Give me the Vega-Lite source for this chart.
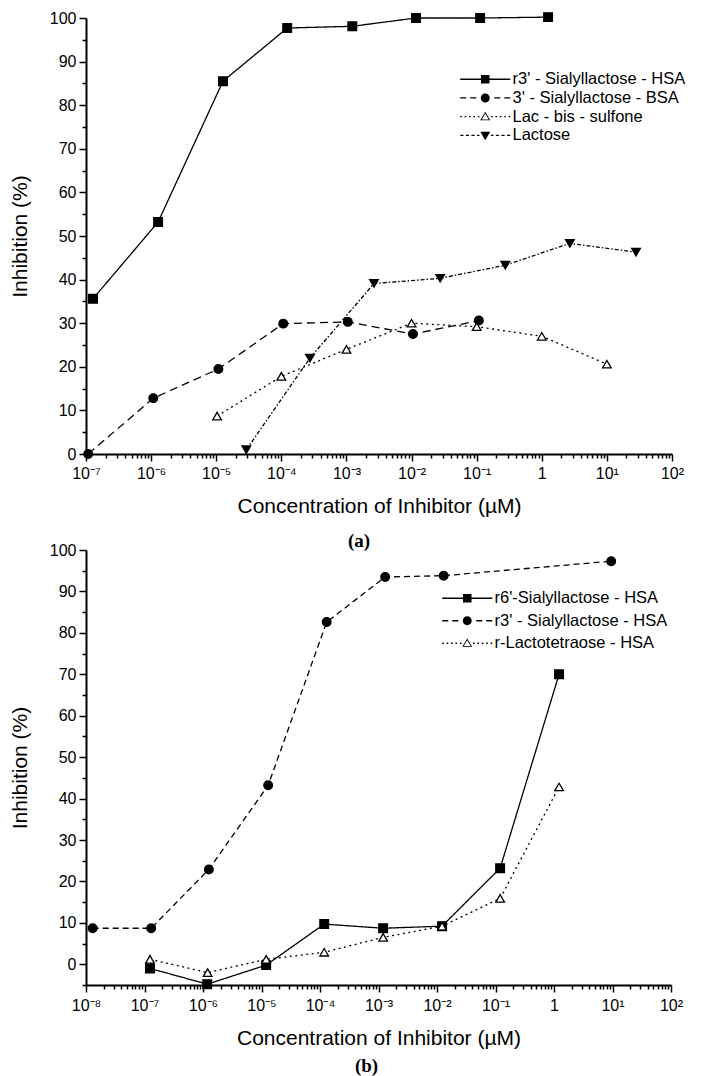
{
  "$schema": "https://vega.github.io/schema/vega-lite/v6.json",
  "background": "white",
  "padding": {"left": 9, "top": 10, "right": 5, "bottom": 0},
  "bounds": "flush",
  "spacing": 96,
  "config": {
    "view": {"stroke": null},
    "font": "Liberation Sans",
    "axis": {
      "domainColor": "black", "domainWidth": 2, "tickColor": "black", "tickWidth": 1.5,
      "labelColor": "black", "titleColor": "black", "labelFont": "Liberation Sans", "labelFontSize": 16,
      "titleFont": "Liberation Sans", "titleFontSize": 21, "titleFontWeight": "normal", "grid": false,
      "labelOverlap": false, "labelBound": false, "labelFlush": false
    },
    "legend": {
      "orient": "none", "title": null, "symbolSize": 256, "symbolStrokeWidth": 0, "symbolStrokeColor": "black",
      "symbolFillColor": "black", "symbolOpacity": 1, "labelFont": "Liberation Sans", "labelFontSize": 16.5, "labelColor": "black",
      "labelOffset": 4, "labelLimit": 500, "padding": 0
    }
  },
  "datasets": {
    "a": [
      {"series": "r3' - Sialyllactose - HSA", "conc": 1.28e-7, "inh": 35.6},
      {"series": "r3' - Sialyllactose - HSA", "conc": 1.28e-6, "inh": 53.2},
      {"series": "r3' - Sialyllactose - HSA", "conc": 1.27e-5, "inh": 85.5},
      {"series": "r3' - Sialyllactose - HSA", "conc": 1.23e-4, "inh": 97.7},
      {"series": "r3' - Sialyllactose - HSA", "conc": 1.23e-3, "inh": 98.1},
      {"series": "r3' - Sialyllactose - HSA", "conc": 1.17e-2, "inh": 100},
      {"series": "r3' - Sialyllactose - HSA", "conc": 1.13e-1, "inh": 100},
      {"series": "r3' - Sialyllactose - HSA", "conc": 1.25, "inh": 100.2},
      {"series": "3' - Sialyllactose - BSA", "conc": 1.08e-7, "inh": 0},
      {"series": "3' - Sialyllactose - BSA", "conc": 1.08e-6, "inh": 12.8},
      {"series": "3' - Sialyllactose - BSA", "conc": 1.08e-5, "inh": 19.5},
      {"series": "3' - Sialyllactose - BSA", "conc": 1.07e-4, "inh": 29.9},
      {"series": "3' - Sialyllactose - BSA", "conc": 1.05e-3, "inh": 30.3},
      {"series": "3' - Sialyllactose - BSA", "conc": 1.05e-2, "inh": 27.5},
      {"series": "3' - Sialyllactose - BSA", "conc": 1.08e-1, "inh": 30.6},
      {"series": "Lac - bis - sulfone", "conc": 1.03e-5, "inh": 8.7},
      {"series": "Lac - bis - sulfone", "conc": 1.0e-4, "inh": 17.8},
      {"series": "Lac - bis - sulfone", "conc": 1.0e-3, "inh": 24.0},
      {"series": "Lac - bis - sulfone", "conc": 1.0e-2, "inh": 30.0},
      {"series": "Lac - bis - sulfone", "conc": 1.0e-1, "inh": 29.2},
      {"series": "Lac - bis - sulfone", "conc": 1.0, "inh": 27.0},
      {"series": "Lac - bis - sulfone", "conc": 10, "inh": 20.6},
      {"series": "Lactose", "conc": 2.9e-5, "inh": 1.0},
      {"series": "Lactose", "conc": 2.75e-4, "inh": 22.0},
      {"series": "Lactose", "conc": 2.65e-3, "inh": 39.1},
      {"series": "Lactose", "conc": 2.75e-2, "inh": 40.3},
      {"series": "Lactose", "conc": 2.75e-1, "inh": 43.3},
      {"series": "Lactose", "conc": 2.7, "inh": 48.3},
      {"series": "Lactose", "conc": 28, "inh": 46.3}
    ],
    "b": [
      {"series": "r6'-Sialyllactose - HSA", "conc": 1.24e-7, "inh": -1.0},
      {"series": "r6'-Sialyllactose - HSA", "conc": 1.18e-6, "inh": -4.8},
      {"series": "r6'-Sialyllactose - HSA", "conc": 1.2e-5, "inh": -0.2},
      {"series": "r6'-Sialyllactose - HSA", "conc": 1.18e-4, "inh": 9.7},
      {"series": "r6'-Sialyllactose - HSA", "conc": 1.2e-3, "inh": 8.7},
      {"series": "r6'-Sialyllactose - HSA", "conc": 1.22e-2, "inh": 9.2},
      {"series": "r6'-Sialyllactose - HSA", "conc": 1.2e-1, "inh": 23.2},
      {"series": "r6'-Sialyllactose - HSA", "conc": 1.22, "inh": 70.0},
      {"series": "r3' - Sialyllactose - HSA", "conc": 1.3e-8, "inh": 8.7},
      {"series": "r3' - Sialyllactose - HSA", "conc": 1.3e-7, "inh": 8.7},
      {"series": "r3' - Sialyllactose - HSA", "conc": 1.26e-6, "inh": 22.9},
      {"series": "r3' - Sialyllactose - HSA", "conc": 1.3e-5, "inh": 43.2},
      {"series": "r3' - Sialyllactose - HSA", "conc": 1.3e-4, "inh": 82.6},
      {"series": "r3' - Sialyllactose - HSA", "conc": 1.3e-3, "inh": 93.5},
      {"series": "r3' - Sialyllactose - HSA", "conc": 1.3e-2, "inh": 93.8},
      {"series": "r3' - Sialyllactose - HSA", "conc": 9.5, "inh": 97.3},
      {"series": "r-Lactotetraose - HSA", "conc": 1.24e-7, "inh": 1.2},
      {"series": "r-Lactotetraose - HSA", "conc": 1.2e-6, "inh": -2.0},
      {"series": "r-Lactotetraose - HSA", "conc": 1.2e-5, "inh": 1.2},
      {"series": "r-Lactotetraose - HSA", "conc": 1.18e-4, "inh": 2.9},
      {"series": "r-Lactotetraose - HSA", "conc": 1.2e-3, "inh": 6.5},
      {"series": "r-Lactotetraose - HSA", "conc": 1.22e-2, "inh": 9.2},
      {"series": "r-Lactotetraose - HSA", "conc": 1.2e-1, "inh": 15.9},
      {"series": "r-Lactotetraose - HSA", "conc": 1.22, "inh": 42.8}
    ]
  },
  "resolve": {
    "scale": {"x": "independent", "y": "independent", "shape": "independent", "strokeDash": "independent", "fill": "independent"},
    "legend": {"shape": "independent"}
  },
  "vconcat": [
    {
      "width": 586, "height": 436,
      "data": {"name": "a"},
      "title": {"text": "(a)", "orient": "bottom", "font": "Liberation Serif", "fontSize": 19, "fontWeight": "bold", "color": "black", "dx": -20, "offset": 16},
      "encoding": {
        "x": {"field": "conc", "type": "quantitative",
          "scale": {"type": "log", "domain": [1e-7, 100], "nice": false},
          "axis": {
            "title": "Concentration of Inhibitor (µM)",
            "values": [1e-7,2e-7,3e-7,4e-7,5e-7,6e-7,7e-7,8e-7,9e-7,1e-6,2e-6,3e-6,4e-6,5e-6,6e-6,7e-6,8e-6,9e-6,1e-5,2e-5,3e-5,4e-5,5e-5,6e-5,7e-5,8e-5,9e-5,1e-4,2e-4,3e-4,4e-4,5e-4,6e-4,7e-4,8e-4,9e-4,0.001,0.002,0.003,0.004,0.005,0.006,0.007,0.008,0.009,0.01,0.02,0.03,0.04,0.05,0.06,0.07,0.08,0.09,0.1,0.2,0.3,0.4,0.5,0.6,0.7,0.8,0.9,1,2,3,4,5,6,7,8,9,10,20,30,40,50,60,70,80,90,100],
            "labelExpr": "abs(datum.value/pow(10,round(log(datum.value)/LN10))-1)<0.001 ? (round(log(datum.value)/LN10)==0 ? '1' : '10' + (round(log(datum.value)/LN10)<0 ? '⁻' : '') + substring('⁰¹²³⁴⁵⁶⁷⁸⁹', abs(round(log(datum.value)/LN10)), abs(round(log(datum.value)/LN10))+1)) : ''",
            "tickSize": {"condition": {"test": "abs(datum.value/pow(10,round(log(datum.value)/LN10))-1)<0.001", "value": 7}, "value": 4},
            "labelPadding": 4, "titlePadding": 14
          }
        },
        "y": {"field": "inh", "type": "quantitative",
          "scale": {"domain": [0, 100], "nice": false, "zero": false},
          "axis": {
            "title": "Inhibition (%)",
            "values": [0,5,10,15,20,25,30,35,40,45,50,55,60,65,70,75,80,85,90,95,100],
            "labelExpr": "datum.value % 10 === 0 ? datum.label : ''",
            "tickSize": {"condition": {"test": "datum.value % 10 === 0", "value": 7}, "value": 4},
            "labelPadding": 3, "titlePadding": 19
          }
        }
      },
      "layer": [
        {
          "mark": {"type": "line", "strokeWidth": 1.3, "color": "black"},
          "encoding": {
            "detail": {"field": "series", "type": "nominal"},
            "strokeDash": {"field": "series", "type": "nominal",
              "scale": {"domain": ["r3' - Sialyllactose - HSA", "3' - Sialyllactose - BSA", "Lac - bis - sulfone", "Lactose"],
                "range": [[1, 0], [8, 5], [2, 3.5], [4, 2, 1.5, 2]]},
              "legend": null}
          }
        },
        {
          "mark": {"type": "point", "strokeWidth": 1.3, "opacity": 1, "stroke": "black", "size": 75},
          "encoding": {
            "shape": {"field": "series", "type": "nominal",
              "scale": {"domain": ["r3' - Sialyllactose - HSA", "3' - Sialyllactose - BSA", "Lac - bis - sulfone", "Lactose"],
                "range": ["square", "circle", "triangle-up", "triangle-down"]},
              "legend": null},
            "fill": {"field": "series", "type": "nominal",
              "scale": {"domain": ["r3' - Sialyllactose - HSA", "3' - Sialyllactose - BSA", "Lac - bis - sulfone", "Lactose"],
                "range": ["black", "black", "white", "black"]},
              "legend": null}
          }
        },
        {
          "transform": [{"filter": "false"}],
          "mark": {"type": "point", "filled": true, "fill": "black", "opacity": 1},
          "encoding": {
            "shape": {"field": "series", "type": "nominal",
              "scale": {"domain": ["r3' - Sialyllactose - HSA", "3' - Sialyllactose - BSA", "Lac - bis - sulfone", "Lactose"],
                "range": [
                  "M-5,-0.08H1.25V0.08H-5ZM-2.405,-0.53H-1.345V0.53H-2.405Z",
                  "M-5,-0.08H-4.25V0.08H-5ZM-3.75,-0.08H-3V0.08H-3.75ZM-0.75,-0.08H0V0.08H-0.75ZM0.5,-0.08H1.25V0.08H0.5ZM-1.315,0A0.56,0.56,0,1,1,-2.435,0A0.56,0.56,0,1,1,-1.315,0Z",
                  "M-5,-0.08H-4.8V0.08H-5ZM-4.45,-0.08H-4.25V0.08H-4.45ZM-3.9,-0.08H-3.7V0.08H-3.9ZM-3.35,-0.08H-3.15V0.08H-3.35ZM-2.8,-0.08H-2.6V0.08H-2.8ZM-1.15,-0.08H-0.95V0.08H-1.15ZM-0.6,-0.08H-0.4V0.08H-0.6ZM-0.05,-0.08H0.15V0.08H-0.05ZM0.5,-0.08H0.7V0.08H0.5ZM1.05,-0.08H1.25V0.08H1.05ZM-1.875,-0.6L-1.255,0.45L-2.495,0.45ZM-1.875,-0.39L-2.309,0.345L-1.441,0.345Z",
                  "M-5,-0.08H-4.6V0.08H-5ZM-4.3,-0.08H-3.9V0.08H-4.3ZM-3.6,-0.08H-3.2V0.08H-3.6ZM-2.9,-0.08H-2.6V0.08H-2.9ZM-1.15,-0.08H-0.85V0.08H-1.15ZM-0.55,-0.08H-0.15V0.08H-0.55ZM0.15,-0.08H0.55V0.08H0.15ZM0.85,-0.08H1.25V0.08H0.85ZM-1.875,0.6L-1.255,-0.45L-2.495,-0.45Z"
                ]},
              "legend": {"orient": "none", "legendX": 406, "legendY": 53, "rowPadding": 1.7}
            }
          }
        }
      ],
      "resolve": {"scale": {"shape": "independent"}, "legend": {"shape": "independent"}}
    },
    {
      "width": 585, "height": 435,
      "data": {"name": "b"},
      "title": {"text": "(b)", "orient": "bottom", "font": "Liberation Serif", "fontSize": 19, "fontWeight": "bold", "color": "black", "dx": -12, "offset": 9},
      "encoding": {
        "x": {"field": "conc", "type": "quantitative",
          "scale": {"type": "log", "domain": [1e-8, 100], "nice": false},
          "axis": {
            "title": "Concentration of Inhibitor (µM)",
            "values": [1e-8,2e-8,3e-8,4e-8,5e-8,6e-8,7e-8,8e-8,9e-8,1e-7,2e-7,3e-7,4e-7,5e-7,6e-7,7e-7,8e-7,9e-7,1e-6,2e-6,3e-6,4e-6,5e-6,6e-6,7e-6,8e-6,9e-6,1e-5,2e-5,3e-5,4e-5,5e-5,6e-5,7e-5,8e-5,9e-5,1e-4,2e-4,3e-4,4e-4,5e-4,6e-4,7e-4,8e-4,9e-4,0.001,0.002,0.003,0.004,0.005,0.006,0.007,0.008,0.009,0.01,0.02,0.03,0.04,0.05,0.06,0.07,0.08,0.09,0.1,0.2,0.3,0.4,0.5,0.6,0.7,0.8,0.9,1,2,3,4,5,6,7,8,9,10,20,30,40,50,60,70,80,90,100],
            "labelExpr": "abs(datum.value/pow(10,round(log(datum.value)/LN10))-1)<0.001 ? (round(log(datum.value)/LN10)==0 ? '1' : '10' + (round(log(datum.value)/LN10)<0 ? '⁻' : '') + substring('⁰¹²³⁴⁵⁶⁷⁸⁹', abs(round(log(datum.value)/LN10)), abs(round(log(datum.value)/LN10))+1)) : ''",
            "tickSize": {"condition": {"test": "abs(datum.value/pow(10,round(log(datum.value)/LN10))-1)<0.001", "value": 7}, "value": 4},
            "labelPadding": 5, "titlePadding": 14
          }
        },
        "y": {"field": "inh", "type": "quantitative",
          "scale": {"domain": [-5, 100], "nice": false, "zero": false},
          "axis": {
            "title": "Inhibition (%)",
            "values": [-5,0,5,10,15,20,25,30,35,40,45,50,55,60,65,70,75,80,85,90,95,100],
            "labelExpr": "datum.value % 10 === 0 ? datum.label : ''",
            "tickSize": {"condition": {"test": "datum.value % 10 === 0", "value": 7}, "value": 4},
            "labelPadding": 3, "titlePadding": 19
          }
        }
      },
      "layer": [
        {
          "mark": {"type": "line", "strokeWidth": 1.3, "color": "black"},
          "encoding": {
            "detail": {"field": "series", "type": "nominal"},
            "strokeDash": {"field": "series", "type": "nominal",
              "scale": {"domain": ["r6'-Sialyllactose - HSA", "r3' - Sialyllactose - HSA", "r-Lactotetraose - HSA"],
                "range": [[1, 0], [6, 4], [2, 3.5]]},
              "legend": null}
          }
        },
        {
          "mark": {"type": "point", "strokeWidth": 1.3, "opacity": 1, "stroke": "black", "size": 75},
          "encoding": {
            "shape": {"field": "series", "type": "nominal",
              "scale": {"domain": ["r6'-Sialyllactose - HSA", "r3' - Sialyllactose - HSA", "r-Lactotetraose - HSA"],
                "range": ["square", "circle", "triangle-up"]},
              "legend": null},
            "fill": {"field": "series", "type": "nominal",
              "scale": {"domain": ["r6'-Sialyllactose - HSA", "r3' - Sialyllactose - HSA", "r-Lactotetraose - HSA"],
                "range": ["black", "black", "white"]},
              "legend": null}
          }
        },
        {
          "transform": [{"filter": "false"}],
          "mark": {"type": "point", "filled": true, "fill": "black", "opacity": 1},
          "encoding": {
            "shape": {"field": "series", "type": "nominal",
              "scale": {"domain": ["r6'-Sialyllactose - HSA", "r3' - Sialyllactose - HSA", "r-Lactotetraose - HSA"],
                "range": [
                  "M-5,-0.08H1.25V0.08H-5ZM-2.405,-0.53H-1.345V0.53H-2.405Z",
                  "M-5,-0.08H-4.25V0.08H-5ZM-3.75,-0.08H-3V0.08H-3.75ZM-0.75,-0.08H0V0.08H-0.75ZM0.5,-0.08H1.25V0.08H0.5ZM-1.315,0A0.56,0.56,0,1,1,-2.435,0A0.56,0.56,0,1,1,-1.315,0Z",
                  "M-5,-0.08H-4.8V0.08H-5ZM-4.45,-0.08H-4.25V0.08H-4.45ZM-3.9,-0.08H-3.7V0.08H-3.9ZM-3.35,-0.08H-3.15V0.08H-3.35ZM-2.8,-0.08H-2.6V0.08H-2.8ZM-1.15,-0.08H-0.95V0.08H-1.15ZM-0.6,-0.08H-0.4V0.08H-0.6ZM-0.05,-0.08H0.15V0.08H-0.05ZM0.5,-0.08H0.7V0.08H0.5ZM1.05,-0.08H1.25V0.08H1.05ZM-1.875,-0.6L-1.255,0.45L-2.495,0.45ZM-1.875,-0.39L-2.309,0.345L-1.441,0.345Z"
                ]},
              "legend": {"orient": "none", "legendX": 388, "legendY": 40, "rowPadding": 5.5}
            }
          }
        }
      ],
      "resolve": {"scale": {"shape": "independent"}, "legend": {"shape": "independent"}}
    }
  ]
}
